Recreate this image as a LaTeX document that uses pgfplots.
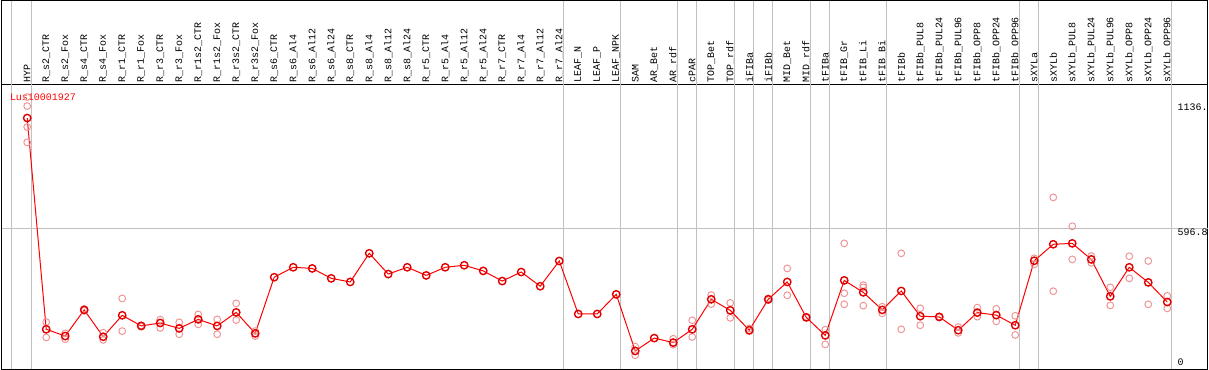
\documentclass[border=0pt]{standalone}
\usepackage{fontspec}
\setmainfont{Liberation Mono}
\usepackage{pgfplots}
\pgfplotsset{compat=1.18}
\definecolor{gridgray}{RGB}{192,192,192}
\definecolor{reppink}{RGB}{238,150,150}
\definecolor{mainred}{RGB}{255,0,0}
\definecolor{markred}{RGB}{225,0,0}
\begin{document}
\begin{tikzpicture}
\useasboundingbox (0,0) rectangle (1209bp,370bp);
\begin{axis}[
  at={(1.5bp,1bp)}, anchor=south west,
  scale only axis, width=1206bp, height=284bp,
  xmin=-1.353, xmax=62.12, ymin=-27.05, ymax=1232.4,
  axis line style={line width=1bp, black},
  clip=false,
  ytick=\empty,
  xtick={0,...,60},
  xticklabels={HYP,R\_s2\_CTR,R\_s2\_Fox,R\_s4\_CTR,R\_s4\_Fox,R\_r1\_CTR,R\_r1\_Fox,R\_r3\_CTR,R\_r3\_Fox,R\_r1s2\_CTR,R\_r1s2\_Fox,R\_r3s2\_CTR,R\_r3s2\_Fox,R\_s6\_CTR,R\_s6\_Al4,R\_s6\_Al12,R\_s6\_Al24,R\_s8\_CTR,R\_s8\_Al4,R\_s8\_Al12,R\_s8\_Al24,R\_r5\_CTR,R\_r5\_Al4,R\_r5\_Al12,R\_r5\_Al24,R\_r7\_CTR,R\_r7\_Al4,R\_r7\_Al12,R\_r7\_Al24,LEAF\_N,LEAF\_P,LEAF\_NPK,SAM,AR\_Bet,AR\_rdf,cPAR,TOP\_Bet,TOP\_rdf,iFIBa,iFIBb,MID\_Bet,MID\_rdf,tFIBa,tFIB\_Gr,tFIB\_Li,tFIB\_Bi,tFIBb,tFIBb\_PUL8,tFIBb\_PUL24,tFIBb\_PUL96,tFIBb\_OPP8,tFIBb\_OPP24,tFIBb\_OPP96,sXYLa,sXYLb,sXYLb\_PUL8,sXYLb\_PUL24,sXYLb\_PUL96,sXYLb\_OPP8,sXYLb\_OPP24,sXYLb\_OPP96},
  xticklabel pos=upper,
  major tick length=0pt,
  xticklabel style={rotate=90, anchor=west, inner sep=0pt, font=\fontsize{10}{12}\selectfont},
  xticklabel shift=2bp,
]
% header frame and separators
\draw[line width=1bp, black] (axis cs:-1.353,-27.05) rectangle (axis cs:62.12,1607);
\draw[gridgray, line width=1bp] (axis cs:-1.353,596.8) -- (axis cs:62.12,596.8);
\pgfplotsinvokeforeach{-0.83,0.2,28.2,31.2,34.2,35.2,37.2,38.2,39.2,41.2,42.2,45.2,52.2,53.2,60.2}{
  \draw[gridgray, line width=1bp] (axis cs:#1,-27.05) -- (axis cs:#1,1607);
}
% replicates
\addplot[only marks, mark=o, mark size=3.4bp, mark options={draw=reppink, line width=1bp}] coordinates {
(0,1179) (0,1139) (0,1046) (0,978)
(1,181) (1,113) (2,131) (2,105) (3,239) (3,231) (4,134) (4,102)
(5,286) (5,141) (6,166) (6,162) (7,192) (7,155) (8,180) (8,127)
(9,215) (9,171) (10,193) (10,127) (11,264) (11,190) (12,141) (12,119)
(32,72) (32,34) (34,107) (34,81) (35,189) (35,115) (36,301) (36,261)
(37,266) (37,200) (38,153) (38,140) (39,286) (39,278) (40,419) (40,300)
(41,204) (41,200) (42,147) (42,82) (43,530) (43,309) (43,260)
(44,345) (44,335) (44,254) (45,249) (45,220) (46,486) (46,149)
(47,242) (47,167) (48,206) (48,202) (49,159) (49,133) (50,245) (50,205)
(51,240) (51,184) (52,209) (52,124) (53,464) (53,437) (54,734) (54,318)
(55,606) (55,459) (56,474) (56,444) (57,335) (57,255) (58,473) (58,375)
(59,452) (59,260) (60,297) (60,242)
};
% mean series
\addplot[mainred, line width=1bp, mark=o, mark size=3.7bp, mark options={draw=markred, line width=1.4bp}] coordinates {
(0,1086) (1,149) (2,119) (3,235) (4,116) (5,211) (6,164) (7,177) (8,153) (9,193)
(10,164) (11,224) (12,131) (13,380) (14,424) (15,419) (16,375) (17,359) (18,486) (19,394)
(20,424) (21,388) (22,424) (23,433) (24,408) (25,363) (26,403) (27,340) (28,452) (29,217)
(30,217) (31,304) (32,53) (33,110) (34,90) (35,149) (36,282) (37,233) (38,145) (39,282)
(40,359) (41,202) (42,122) (43,366) (44,313) (45,235) (46,319) (47,207) (48,204) (49,145)
(50,223) (51,212) (52,167) (53,453) (54,526) (55,530) (56,459) (57,295) (58,424) (59,357)
(60,270)
};
% labels
\node[anchor=north west, inner sep=0pt, text=mainred, font=\fontsize{10}{12}\selectfont] at (axis cs:-0.916,1195.6) {Lus10001927};
\node[anchor=west, inner sep=0pt, font=\fontsize{10}{12}\selectfont] at (axis cs:60.54,1136) {1136.};
\node[anchor=north west, inner sep=0pt, font=\fontsize{10}{12}\selectfont] at (axis cs:60.54,594) {596.8};
\node[anchor=west, inner sep=0pt, font=\fontsize{10}{12}\selectfont] at (axis cs:60.54,2) {0};
\end{axis}
\end{tikzpicture}
\end{document}
